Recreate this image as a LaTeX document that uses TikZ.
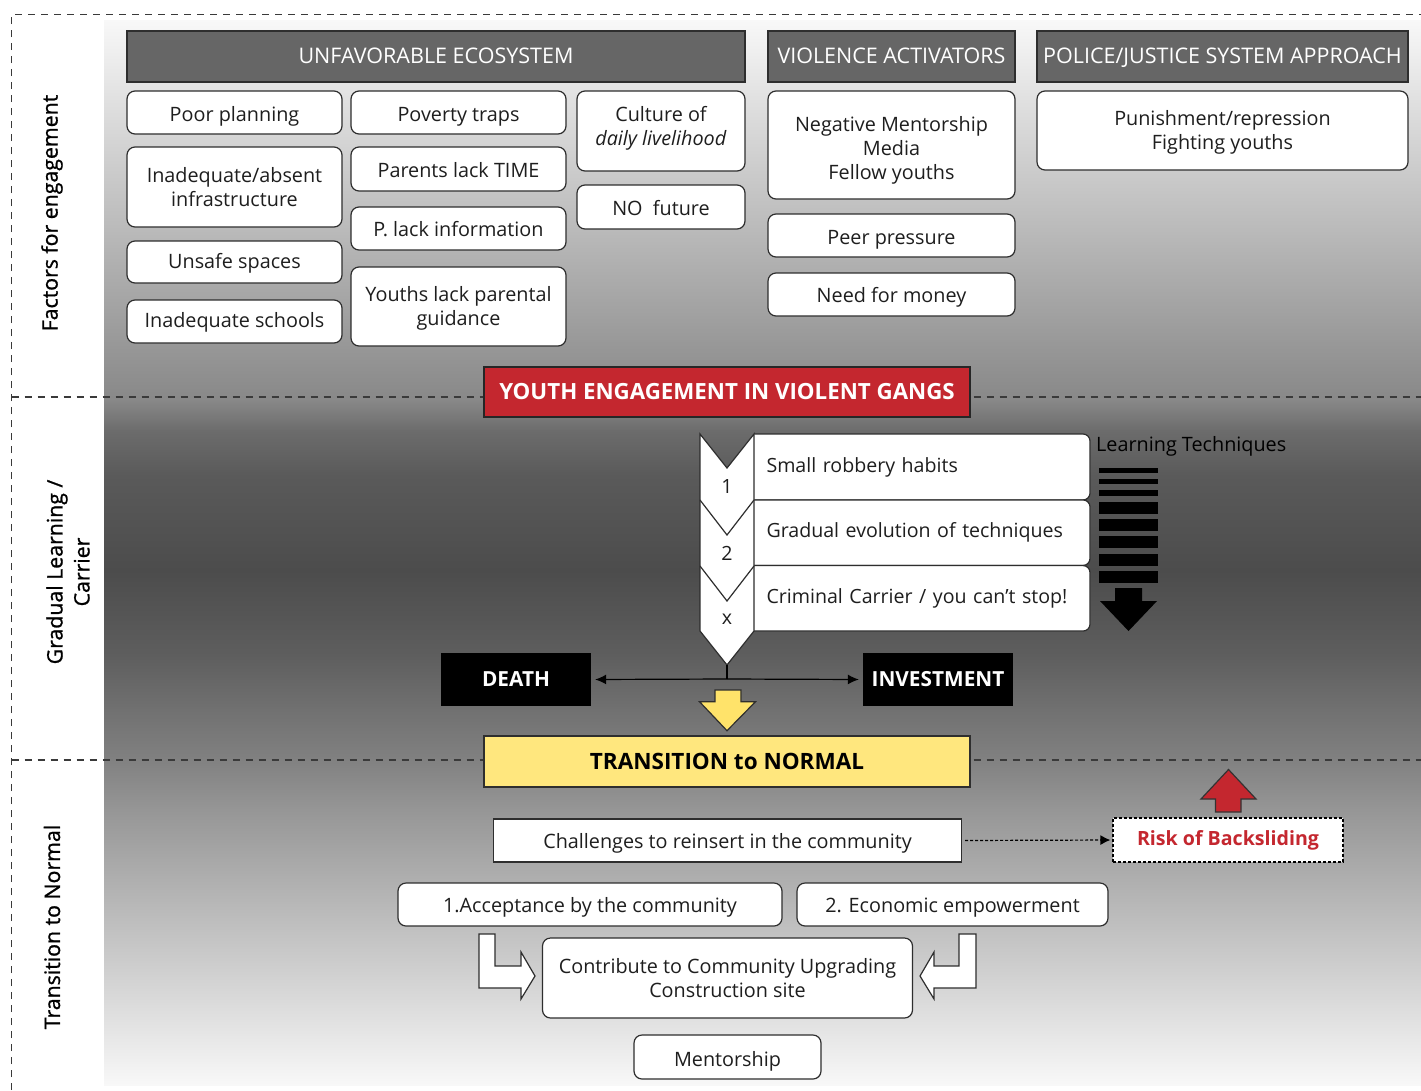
\documentclass[tikz,border=0pt]{standalone}
\usepackage{fontspec}
\setmainfont{Open Sans}
\newfontfamily\semib[FakeBold=1]{Open Sans}
\usetikzlibrary{arrows.meta}
\definecolor{bxline}{HTML}{2E2E2E}
\definecolor{hdrfill}{HTML}{666666}
\definecolor{redfill}{HTML}{C4272F}
\definecolor{yelfill}{HTML}{FFE77E}
\definecolor{yelarrow}{HTML}{FFE36A}
\definecolor{dashcol}{HTML}{3A3A3A}
\definecolor{txt}{HTML}{1E1E1E}
\definecolor{gA}{HTML}{F8F8F8}
\definecolor{gB}{HTML}{999999}
\definecolor{gC}{HTML}{888888}
\definecolor{gD}{HTML}{6C6C6C}
\definecolor{gE}{HTML}{5A5A5A}
\definecolor{gF}{HTML}{4C4C4C}
\definecolor{gG}{HTML}{5E5E5E}
\definecolor{gH}{HTML}{707070}
\definecolor{gI}{HTML}{808080}
\definecolor{gJ}{HTML}{959595}
\tikzset{
  box/.style={draw=bxline, line width=1.2pt, fill=white, rounded corners=8pt, align=center, inner sep=0pt, text=txt, font=\fontsize{19.8}{24}\selectfont},
  hdr/.style={draw=bxline, line width=1.2pt, fill=hdrfill, align=center, inner sep=0pt, text=white, font=\fontsize{21.5}{24}\selectfont},
  blackbox/.style={fill=black, inner sep=0pt, text=white, font=\bfseries\fontsize{20.8}{24}\selectfont},
  sharpbox/.style={draw=bxline, line width=1.2pt, fill=white, inner sep=0pt, text=txt, font=\fontsize{19.8}{24}\selectfont},
  sidelabel/.style={rotate=90, align=center, text=black, font=\semib\fontsize{21.3}{27}\selectfont},
  sepline/.style={draw=dashcol, line width=1.2pt, dash pattern=on 7pt off 6pt},
  stepbox/.style={draw=bxline, line width=1.2pt, fill=white, rounded corners=7pt, inner sep=0pt, text=txt, font=\fontsize{19.6}{24}\selectfont, text width=304pt, align=left},
  plain/.style={inner sep=0pt, text=txt, font=\fontsize{19.6}{24}\selectfont},
}
% \bx[style]{x1}{y1}{x2}{y2}{name}{text drop}{text}
\newcommand\bx[8][box]{%
  \node[#1, minimum width={(#4-#2)*1pt}, minimum height={(#5-#3)*1pt}] (#6) at ({(#2+#4)/2},{(#3+#5)/2}) {};
  \node[#1, draw=none, fill=none, minimum width=0pt, minimum height=0pt] (#6-t) at ([yshift={-(#7)*1pt}]#6.center) {#8};}
\newcommand\band[4]{\fill[top color=#3, bottom color=#4] (104,#1) rectangle (1421,#2+0.8);}
\begin{document}
\begin{tikzpicture}[x=1pt,y=-1pt]
\useasboundingbox (0,0) rectangle (1421,1090);
\fill[white] (0,0) rectangle (1421,1090);
% background gradient
\band{20}{340}{gA}{gB}
\band{340}{400}{gB}{gC}
\band{400}{430}{gC}{gD}
\band{430}{475}{gD}{gE}
\band{475}{570}{gE}{gF}
\band{570}{655}{gF}{gG}
\band{655}{707}{gG}{gH}
\band{707}{757}{gH}{gI}
\band{757}{807}{gI}{gJ}
\fill[top color=gJ, bottom color=gA] (104,807) rectangle (1421,1085);
% dashed frame and separators
\draw[sepline] (11.5,1090) -- (11.5,14.5) -- (1421,14.5);
\draw[sepline] (11.5,397) -- (1421,397);
\draw[sepline] (11.5,760) -- (1421,760);
% side labels
\node[sidelabel] (lab1) at (52,213) {Factors for engagement};
\node[sidelabel] (lab2) at (68,572) {Gradual Learning /\\Carrier};
\node[sidelabel] (lab3) at (52,927) {Transition to Normal};
% headers
\bx[hdr]{127}{31}{745}{82}{hU}{-0.5}{UNFAVORABLE ECOSYSTEM}
\bx[hdr]{768}{31}{1015}{82}{hV}{-0.5}{VIOLENCE ACTIVATORS}
\bx[hdr]{1037}{31}{1408}{82}{hP}{0.8}{POLICE/JUSTICE SYSTEM APPROACH}
% factor boxes
\bx{127}{91}{342}{134}{b1}{4}{Poor planning}
\bx{127}{147}{342}{227}{b2}{0}{Inadequate/absent\\infrastructure}
\bx{127}{241}{342}{283}{b3}{1.5}{Unsafe spaces}
\bx{127}{300}{342}{343}{b4}{1}{Inadequate schools}
\bx{351}{91}{566}{134}{b5}{4}{Poverty traps}
\bx{351}{147}{566}{191}{b6}{1}{Parents lack TIME}
\bx{351}{207}{566}{250}{b7}{1}{P. lack information}
\bx{351}{267}{566}{346}{b8}{2}{Youths lack parental\\guidance}
\bx{577}{91}{745}{171}{b9}{-2.5}{Culture of\\\textit{daily livelihood}}
\bx{577}{185}{745}{229}{b10}{1}{NO\ \ future}
\bx{768}{91}{1015}{199}{v1}{5}{Negative Mentorship\\Media\\Fellow youths}
\bx{768}{214}{1015}{257}{v2}{4}{Peer pressure}
\bx{768}{273}{1015}{316}{v3}{3}{Need for money}
\bx{1037}{91}{1408}{170}{p1}{2}{Punishment/repression\\Fighting youths}
% youth engagement
\node[draw=black!85, line width=1.2pt, fill=redfill, text=white, inner sep=0pt,
  minimum width=486pt, minimum height=50pt, font=\bfseries\fontsize{22.3}{24}\selectfont]
  (youth) at (727,392) {YOUTH ENGAGEMENT IN VIOLENT GANGS};
% step boxes (left part hidden under the chevron column)
\begin{scope}
\clip (754,420) rectangle (1200,640);
\node[stepbox, minimum width=343pt, minimum height=66pt] (s1) at (918.5,467) {Small robbery habits};
\node[stepbox, minimum width=343pt, minimum height=65.5pt] (s2) at (918.5,532.7) {Gradual evolution of techniques};
\node[stepbox, minimum width=343pt, minimum height=65.5pt] (s3) at (918.5,598.3) {Criminal Carrier / you can't stop!};
\end{scope}
% chevron column
\fill[white] (700,434) -- (727,468) -- (754,434) -- (754,631) -- (727,665) -- (700,631) -- cycle;
\draw[bxline, line width=1.2pt, line join=miter] (700,434) -- (727,468) -- (754,434) -- (754,631) -- (727,665) -- (700,631) -- cycle;
\draw[bxline, line width=1.2pt] (700,500) -- (727,535) -- (754,500);
\draw[bxline, line width=1.2pt] (700,566) -- (727,601) -- (754,566);
\node[plain] (n1) at (727,486) {1};
\node[plain] (n2) at (727,553) {2};
\node[plain] (n3) at (727,619) {x};
\coordinate (chevtip) at (727,665);
% learning techniques
\node[plain, anchor=west, text=black, font=\fontsize{19.8}{24}\selectfont] (lt) at (1096,446.5) {Learning Techniques};
\fill[black] (1099,468.3) rectangle (1158,473.3);
\fill[black] (1099,479.3) rectangle (1158,484.3);
\fill[black] (1099,490) rectangle (1158,496);
\fill[black] (1099,502.3) rectangle (1158,514);
\fill[black] (1099,519) rectangle (1158,530.7);
\fill[black] (1099,536.3) rectangle (1158,548);
\fill[black] (1099,554) rectangle (1158,565.7);
\fill[black] (1099,571) rectangle (1158,582.7);
\fill[black] (1115,588) -- (1142,588) -- (1142,601) -- (1157,601) -- (1128.5,631) -- (1100,601) -- (1115,601) -- cycle;
% death / investment
\bx[blackbox]{441}{653}{591}{706}{death}{0}{DEATH}
\bx[blackbox]{863}{653}{1013}{706}{invest}{0}{INVESTMENT}
\coordinate (junc) at (727,679);
\draw[black, line width=1.2pt] (chevtip) -- (junc);
\draw[black, line width=1.2pt, -{Latex[length=11pt,width=10pt]}, shorten >=4pt] (junc) -- (death.east);
\draw[black, line width=1.2pt, -{Latex[length=11pt,width=10pt]}, shorten >=4pt] (junc) -- (invest.west);
% yellow arrow
\filldraw[fill=yelarrow, draw=bxline, line width=1.2pt, line join=miter] (715,690) -- (741,690) -- (741,701.7) -- (755.5,701.7) -- (727,730.7) -- (699.5,701.7) -- (715,701.7) -- cycle;
% transition box
\node[draw=bxline, line width=1.2pt, fill=yelfill, text=black, inner sep=0pt,
  minimum width=486pt, minimum height=51pt, font=\bfseries\fontsize{22.5}{24}\selectfont]
  (trans) at (727,761.5) {TRANSITION to NORMAL};
% bottom section
\filldraw[fill=redfill, draw=black!80, line width=1.2pt, line join=miter] (1215.5,812) -- (1241,812) -- (1241,799) -- (1256,799) -- (1228.5,769.5) -- (1201,799) -- (1215.5,799) -- cycle;
\bx[sharpbox]{493.5}{819}{961.5}{862}{chall}{3}{Challenges to reinsert in the community}
\node[draw=black, line width=1.2pt, dash pattern=on 3pt off 2pt, fill=white, inner sep=0pt,
  minimum width=230pt, minimum height=44pt, text=redfill, font=\bfseries\fontsize{19.6}{24}\selectfont]
  (risk) at (1228,840) {Risk of Backsliding};
\draw[black, line width=1.2pt, dash pattern=on 3pt off 2pt, -{Latex[length=10pt,width=10pt]}, shorten <=3pt, shorten >=2pt] (chall.east) -- (risk.west);
\bx{398}{883}{782}{926}{acc}{3}{1.Acceptance by the community}
\bx{797}{883}{1108}{926}{eco}{3}{2. Economic empowerment}
\bx{542.5}{938}{912.5}{1018}{contrib}{0}{Contribute to Community Upgrading\\Construction site}
\bx{634}{1035}{821}{1079}{mentor}{4}{Mentorship}
% bent outline arrows
\filldraw[fill=white, draw=bxline, line width=1.2pt, line join=miter] (479,934) -- (495,934) -- (495,966) -- (521,966) -- (521,952) -- (535,976) -- (521,999) -- (521,988) -- (479,988) -- cycle;
\filldraw[fill=white, draw=bxline, line width=1.2pt, line join=miter] (976,934) -- (959,934) -- (959,966) -- (934,966) -- (934,952) -- (920,976) -- (934,999) -- (934,988) -- (976,988) -- cycle;
\end{tikzpicture}
\end{document}
